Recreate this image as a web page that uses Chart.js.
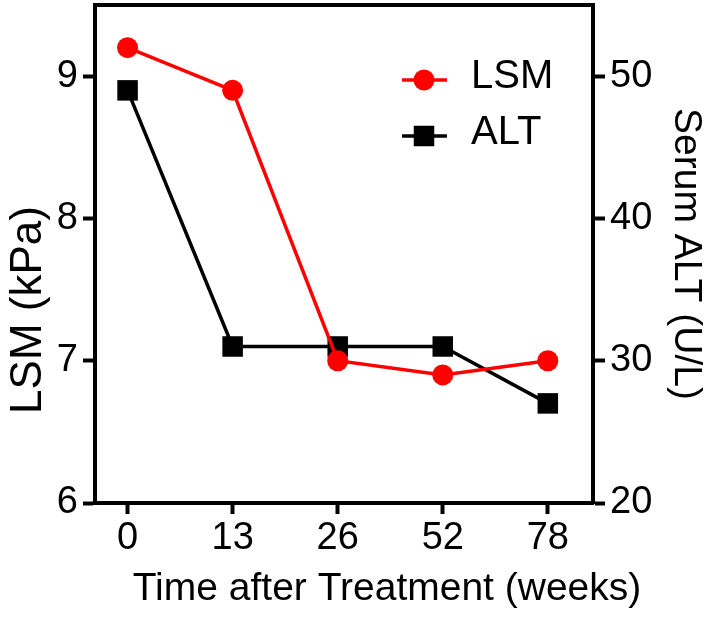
<!DOCTYPE html>
<html><head><meta charset="utf-8">
<script src="https://cdn.jsdelivr.net/npm/chart.js@4.4.0/dist/chart.umd.min.js"></script>
<style>html,body{margin:0;padding:0;background:#fff;}</style>
</head><body>
<canvas id="c" width="705" height="619"></canvas>
<script>
const categories = ['0', '13', '26', '52', '78'];
const lsmValues = [9.2, 8.9, 7.0, 6.9, 7.0];
const altValues = [49, 31, 31, 31, 27];
const lsmTicks = [6, 7, 8, 9];
const altTicks = [20, 30, 40, 50];
const seriesLabels = ['LSM', 'ALT'];
const xTitle = 'Time after Treatment (weeks)';
const leftTitle = 'LSM (kPa)';
const rightTitle = 'Serum ALT (U/L)';

const FONT = '"Liberation Sans", Arial, sans-serif';
Chart.defaults.font.family = FONT;
Chart.defaults.color = '#000';

const AX = 4;
function axisGrid(len) {
  return { display: true, drawOnChartArea: false, drawTicks: true, tickLength: len, tickWidth: AX, tickColor: '#000', color: '#000' };
}
const border = { display: true, width: AX, color: '#000' };
function noPad(s) { s.paddingTop = 0; s.paddingBottom = 0; s.paddingLeft = 0; s.paddingRight = 0; }

const framePlugin = {
  id: 'frame',
  afterDraw(chart) {
    const ctx = chart.ctx, a = chart.chartArea;
    ctx.save();
    ctx.strokeStyle = '#000';
    ctx.lineWidth = AX;
    ctx.beginPath();
    ctx.moveTo(a.left - AX / 2, a.top);
    ctx.lineTo(a.right + AX / 2, a.top);
    ctx.stroke();
    ctx.fillStyle = '#000';
    ctx.textAlign = 'center';
    ctx.textBaseline = 'middle';
    // x-axis title
    ctx.font = '39px ' + FONT;
    ctx.fillText(xTitle, 387, 589);
    // left axis title
    ctx.translate(29, 310);
    ctx.rotate(-Math.PI / 2);
    ctx.font = '44px ' + FONT;
    ctx.fillText(leftTitle, 0, 0);
    ctx.restore();
  }
};

const legendPlugin = {
  id: 'customLegend',
  afterDatasetsDraw(chart) {
    const ctx = chart.ctx;
    const rows = [80, 136];
    ctx.save();
    chart.data.datasets.forEach((ds, i) => {
      const y = rows[i];
      ctx.strokeStyle = ds.borderColor;
      ctx.lineWidth = ds.borderWidth;
      ctx.beginPath();
      ctx.moveTo(402, y);
      ctx.lineTo(447, y);
      ctx.stroke();
      ctx.fillStyle = ds.backgroundColor;
      if (ds.pointStyle === 'circle') {
        ctx.beginPath();
        ctx.arc(424, y, ds.pointRadius, 0, Math.PI * 2);
        ctx.fill();
      } else {
        const s = ds.pointRadius * Math.SQRT1_2;
        ctx.fillRect(424 - s, y - s, 2 * s, 2 * s);
      }
      ctx.fillStyle = '#000';
      ctx.font = '40px ' + FONT;
      ctx.textAlign = 'left';
      ctx.textBaseline = 'middle';
      ctx.fillText(ds.label, 471, y - 3);
    });
    ctx.restore();
  }
};

new Chart(document.getElementById('c'), {
  type: 'line',
  data: {
    datasets: [
      {
        label: seriesLabels[0],
        data: lsmValues.map((v, i) => ({ x: i, y: v })),
        yAxisID: 'y',
        borderColor: '#ff0000',
        backgroundColor: '#ff0000',
        borderWidth: 3.5,
        pointStyle: 'circle',
        pointRadius: 10.5,
        pointBorderWidth: 0,
        tension: 0
      },
      {
        label: seriesLabels[1],
        data: altValues.map((v, i) => ({ x: i, y: v })),
        yAxisID: 'y1',
        borderColor: '#000000',
        backgroundColor: '#000000',
        borderWidth: 3.5,
        pointStyle: 'rect',
        pointRadius: 14.5,
        pointBorderWidth: 0,
        tension: 0
      }
    ]
  },
  options: {
    responsive: false,
    animation: false,
    devicePixelRatio: 1,
    events: [],
    layout: { autoPadding: false, padding: { top: 5, left: 0, right: 0, bottom: 0 } },
    plugins: { legend: { display: false }, tooltip: { enabled: false } },
    scales: {
      x: {
        type: 'linear',
        position: 'bottom',
        min: -0.31,
        max: 4.43,
        afterBuildTicks: s => { s.ticks = categories.map((c, i) => ({ value: i })); },
        afterFit: s => { s.height = 116; noPad(s); },
        ticks: { callback: v => categories[v], font: { size: 38 }, color: '#000', padding: 2, maxRotation: 0, autoSkip: false },
        grid: axisGrid(11),
        border: border,
        title: { display: false }
      },
      y: {
        type: 'linear',
        position: 'left',
        min: 6,
        max: 9.5,
        afterBuildTicks: s => { s.ticks = lsmTicks.map(v => ({ value: v })); },
        afterFit: s => { s.width = 95; noPad(s); },
        ticks: { font: { size: 38 }, color: '#000', padding: 5 },
        grid: axisGrid(12),
        border: border,
        title: { display: false }
      },
      y1: {
        type: 'linear',
        position: 'right',
        min: 20,
        max: 55,
        afterBuildTicks: s => { s.ticks = altTicks.map(v => ({ value: v })); },
        afterFit: s => { s.width = 112; noPad(s); },
        ticks: { font: { size: 38 }, color: '#000', padding: 5 },
        grid: axisGrid(12),
        border: border,
        title: { display: true, text: rightTitle, font: { size: 39, lineHeight: 1 }, color: '#000', padding: 0 }
      }
    }
  },
  plugins: [framePlugin, legendPlugin]
});
</script>
</body></html>
